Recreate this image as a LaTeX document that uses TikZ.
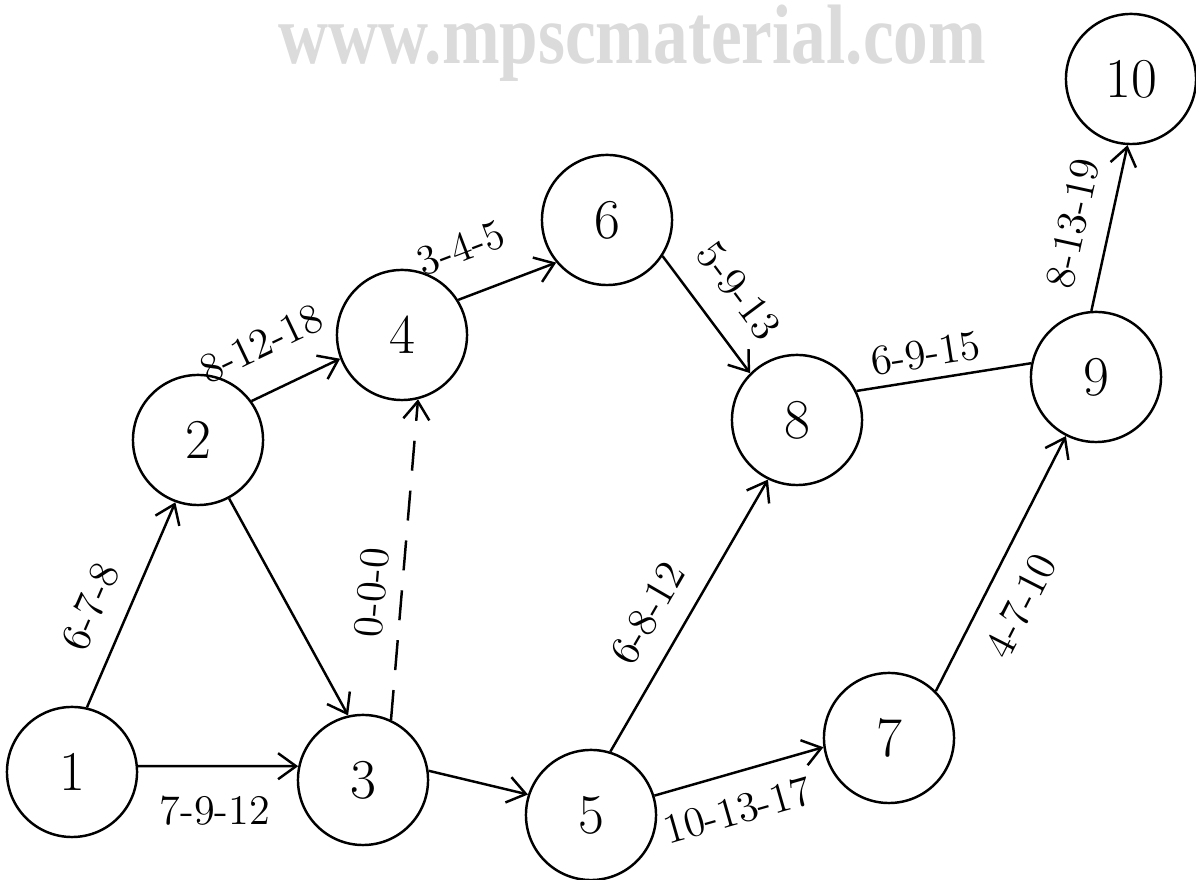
\documentclass[tikz,border=0pt]{standalone}
\usepackage{fontspec}
\newfontfamily\wmfont{Liberation Serif}
\usetikzlibrary{arrows.meta}

\tikzset{
  event/.style={draw, circle, line width=0.7pt, minimum size=1.3cm, inner sep=0pt, font=\fontsize{16}{19}\selectfont},
  act/.style={line width=0.7pt, -{Straight Barb[length=1.8mm,width=2.6mm]}},
  dummy/.style={act, dashed, dash pattern=on 3mm off 2mm},
  lbl/.style={sloped, font=\fontsize{12}{14}\selectfont, inner sep=2pt}
}

\begin{document}
\begin{tikzpicture}[x=0.01cm, y=-0.01cm]
        \useasboundingbox (0,0) rectangle (1196,880);

        % Watermark
        \node[anchor=base west, text=black!14, inner sep=0pt] (wm) at (278,64)
            {\scalebox{0.82}[1]{\wmfont\fontsize{24}{28}\selectfont\bfseries www.mpscmaterial.com}};

        % Events
        \node[event] (n1) at (72,772) {1};
        \node[event] (n2) at (198,440) {2};
        \node[event] (n3) at (363,780) {3};
        \node[event] (n4) at (402,335) {4};
        \node[event] (n5) at (591,815) {5};
        \node[event] (n6) at (607,220) {6};
        \node[event] (n7) at (889,738) {7};
        \node[event] (n8) at (797,420) {8};
        \node[event] (n9) at (1096,377) {9};
        \node[event] (n10) at (1131,79) {10};

        % Activities
        \draw[act] (n1.77) -- node[lbl, above=4pt, pos=0.42] {6-7-8} (n2.250);
        \draw[act] (n1.5) -- node[lbl, below=6pt, pos=0.48] {7-9-12} (n3.168);
        \draw[act] (n2.-62) -- (n3.103);
        \draw[act] (n2.36) -- node[lbl, above=7pt, pos=0.34] {8-12-18} (n4.201);
        \draw[act] (n3.8) -- (n5.162);
        \draw[dummy] (n3.65) -- node[lbl, above=2pt, pos=0.39] {0-0-0} (n4.284);
        \draw[act] (n4.32) -- node[lbl, above=7pt, pos=0.2] {3-4-5} (n6.220);
        \draw[act] (n6.-33) -- node[lbl, above=5pt, pos=0.5] {5-9-13} (n8.135);
        \draw[act] (n5.73) -- node[lbl, above=4pt, pos=0.44] {6-8-12} (n8.244);
        \draw[act] (n5.17) -- node[lbl, below=4pt, pos=0.43] {10-13-17} (n7.188);
        \draw[line width=0.7pt] (n8.26) -- node[lbl, above=1pt, pos=0.42] {6-9-15} (n9.168);
        \draw[act] (n7.45) -- node[lbl, below=4pt, pos=0.4] {4-7-10} (n9.243);
        \draw[act] (n9.94) -- node[lbl, above=4pt, pos=0.48] {8-13-19} (n10.267);
\end{tikzpicture}
\end{document}
